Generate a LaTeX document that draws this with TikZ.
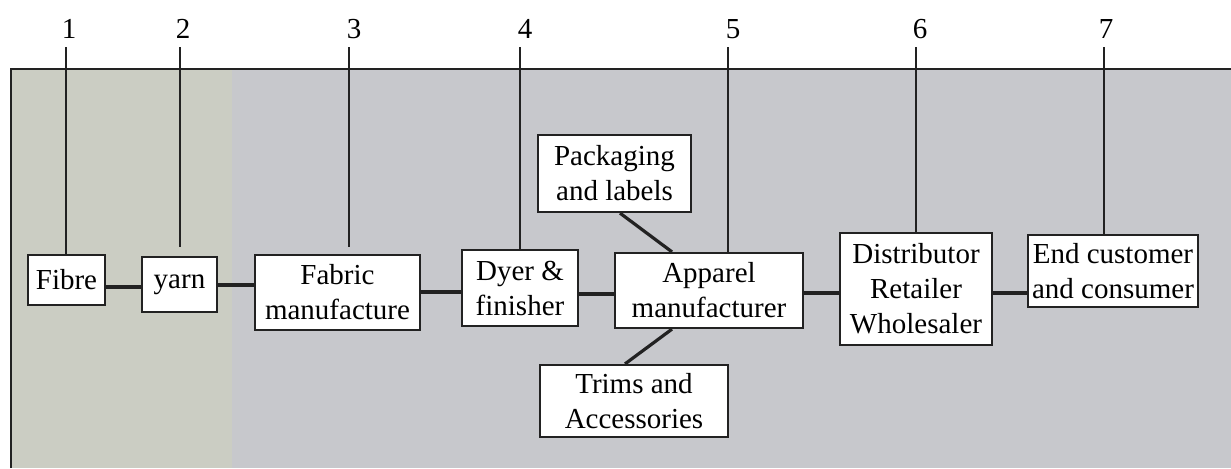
\documentclass[tikz,border=0pt]{standalone}
\usepackage{fontspec}
\setmainfont{Liberation Serif}
\definecolor{bgmain}{HTML}{C7C8CC}
\definecolor{bgleft}{HTML}{CBCDC3}
\definecolor{inkc}{HTML}{222222}
\begin{document}
\begin{tikzpicture}[x=0.5pt,y=-0.5pt,
  stagebox/.style={draw=inkc,line width=1.1pt,fill=white,inner sep=0pt,align=center,
    font=\fontsize{14.5pt}{17.5pt}\selectfont},
  numlab/.style={anchor=base,inner sep=0pt,font=\fontsize{14.5pt}{17.5pt}\selectfont},
  link/.style={draw=inkc,line width=1.6pt},
  stem/.style={draw=inkc,line width=0.8pt}]
\useasboundingbox (0,0) rectangle (1231,468);
% background panel
\fill[bgmain] (11,69) rectangle (1231,468);
\fill[bgleft] (11,69) rectangle (232,468);
\draw[inkc,line width=1.1pt] (11,468) -- (11,69) -- (1231,69);
% boxes
\node[stagebox,minimum width=38.5pt,minimum height=25pt] (fibre) at (66.5,280) {Fibre};
\node[stagebox,minimum width=37.5pt,minimum height=27.5pt] (yarn) at (179.5,284.5) {yarn};
\node[stagebox,minimum width=82.5pt,minimum height=37.5pt] (fabric) at (337.5,292.5) {Fabric\\manufacture};
\node[stagebox,minimum width=58pt,minimum height=38pt] (dyer) at (520,288) {Dyer \&\\finisher};
\node[stagebox,minimum width=94pt,minimum height=37.5pt] (apparel) at (709,290.5) {Apparel\\manufacturer};
\node[stagebox,minimum width=76.5pt,minimum height=38.5pt] (pack) at (614.5,173.5) {Packaging\\and labels};
\node[stagebox,minimum width=94pt,minimum height=36pt] (trims) at (634,401) {Trims and\\Accessories};
\node[stagebox,minimum width=76pt,minimum height=56pt] (dist) at (916,289) {Distributor\\Retailer\\Wholesaler};
\node[stagebox,minimum width=85pt,minimum height=36pt] (endc) at (1113,271) {End customer\\and consumer};
% number labels
\node[numlab] (n1) at (69,38) {1};
\node[numlab] (n2) at (183,38) {2};
\node[numlab] (n3) at (354,38) {3};
\node[numlab] (n4) at (525,38) {4};
\node[numlab] (n5) at (733,38) {5};
\node[numlab] (n6) at (920,38) {6};
\node[numlab] (n7) at (1106,38) {7};
\coordinate (e2) at (180,247);
\coordinate (e3) at (349,247);
% stems
\draw[stem] (66,47) -- (66,0 |- fibre.north);
\draw[stem] (180,47) -- (e2);
\draw[stem] (349,47) -- (e3);
\draw[stem] (520,47) -- (520,0 |- dyer.north);
\draw[stem] (728,47) -- (728,0 |- apparel.north);
\draw[stem] (916,47) -- (916,0 |- dist.north);
\draw[stem] (1104,47) -- (1104,0 |- endc.north);
% horizontal links
\draw[link] (fibre.east |- 0,287) -- (yarn.west |- 0,287);
\draw[link] (yarn.east |- 0,285) -- (fabric.west |- 0,285);
\draw[link] (fabric.east |- 0,292) -- (dyer.west |- 0,292);
\draw[link] (dyer.east |- 0,294) -- (apparel.west |- 0,294);
\draw[link] (apparel.east |- 0,293) -- (dist.west |- 0,293);
\draw[link] (dist.east |- 0,293) -- (endc.west |- 0,293);
% diagonal links
\draw[link] (pack.south -| 620,0) -- (apparel.north -| 672,0);
\draw[link] (apparel.south -| 672,0) -- (trims.north -| 625,0);
\end{tikzpicture}
\end{document}
